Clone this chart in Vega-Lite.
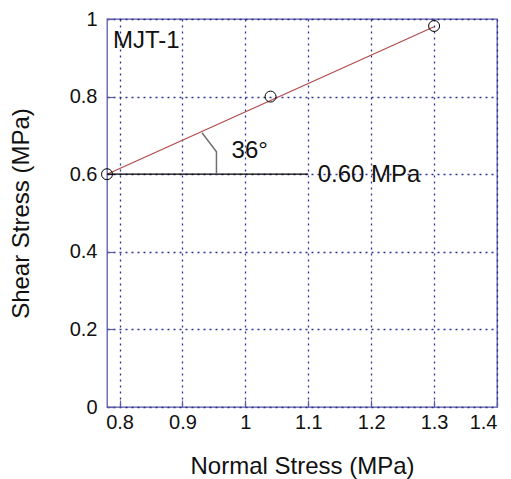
{
  "$schema": "https://vega.github.io/schema/vega-lite/v6.json",
  "autosize": {"type": "none"},
  "padding": {"left": 107, "top": 19, "right": 14, "bottom": 72},
  "width": 390,
  "height": 388,
  "background": "white",
  "config": {
    "view": {"stroke": "#5a5aa8", "strokeWidth": 1.3},
    "font": "Liberation Sans",
    "axis": {
      "domain": false,
      "grid": true,
      "gridColor": "#1c1c8c",
      "gridDash": [2, 4],
      "gridWidth": 1.3,
      "gridOpacity": 0.9,
      "tickColor": "#5a5aa8",
      "tickSize": -7,
      "tickWidth": 1.2,
      "labelFont": "Liberation Sans",
      "labelFontSize": 20,
      "labelColor": "#111111",
      "titleFont": "Liberation Sans",
      "titleFontSize": 24,
      "titleFontWeight": "normal",
      "titleColor": "#111111"
    }
  },
  "layer": [
    {
      "data": {"values": [
        {"x": 0.78, "y": 0.60},
        {"x": 1.30, "y": 0.98}
      ]},
      "mark": {"type": "line", "color": "#b24a4a", "strokeWidth": 1.2},
      "encoding": {
        "x": {
          "field": "x", "type": "quantitative",
          "scale": {"domain": [0.78, 1.4], "nice": false, "zero": false},
          "axis": {
            "title": "Normal Stress (MPa)",
            "values": [0.8, 0.9, 1, 1.1, 1.2, 1.3, 1.4],
            "labelExpr": "'' + datum.value",
            "labelPadding": 12,
            "titleBaseline": "alphabetic",
            "titleY": 66
          }
        },
        "y": {
          "field": "y", "type": "quantitative",
          "scale": {"domain": [0, 1], "nice": false},
          "axis": {
            "title": "Shear Stress (MPa)",
            "values": [0, 0.2, 0.4, 0.6, 0.8, 1],
            "labelExpr": "'' + datum.value",
            "labelPadding": 17,
            "titleBaseline": "alphabetic",
            "titleAngle": -90,
            "titleX": -79,
            "titleY": 194,
            "titleAlign": "center"
          }
        }
      }
    },
    {
      "data": {"values": [
        {"x": 0.78, "y": 0.60},
        {"x": 1.10, "y": 0.60}
      ]},
      "mark": {"type": "line", "color": "#000000", "strokeWidth": 1.2},
      "encoding": {
        "x": {"field": "x", "type": "quantitative"},
        "y": {"field": "y", "type": "quantitative"}
      }
    },
    {
      "data": {"values": [
        {"x": 0.931, "y": 0.707, "o": 1},
        {"x": 0.954, "y": 0.658, "o": 2},
        {"x": 0.954, "y": 0.600, "o": 3}
      ]},
      "mark": {"type": "line", "color": "#707070", "strokeWidth": 1.5},
      "encoding": {
        "x": {"field": "x", "type": "quantitative"},
        "y": {"field": "y", "type": "quantitative"},
        "order": {"field": "o"}
      }
    },
    {
      "data": {"values": [
        {"x": 0.78, "y": 0.60},
        {"x": 1.04, "y": 0.80},
        {"x": 1.30, "y": 0.982}
      ]},
      "mark": {"type": "point", "shape": "circle", "filled": false, "color": "#000000", "size": 120, "strokeWidth": 1, "opacity": 1},
      "encoding": {
        "x": {"field": "x", "type": "quantitative"},
        "y": {"field": "y", "type": "quantitative"}
      }
    },
    {
      "data": {"values": [
        {"x": 0.7895, "y": 0.9245, "label": "MJT-1"},
        {"x": 0.978, "y": 0.641, "label": "36°"},
        {"x": 1.115, "y": 0.5807, "label": "0.60 MPa"}
      ]},
      "mark": {"type": "text", "align": "left", "baseline": "alphabetic", "fontSize": 24, "font": "Liberation Sans", "color": "#111111"},
      "encoding": {
        "x": {"field": "x", "type": "quantitative"},
        "y": {"field": "y", "type": "quantitative"},
        "text": {"field": "label"}
      }
    }
  ]
}
